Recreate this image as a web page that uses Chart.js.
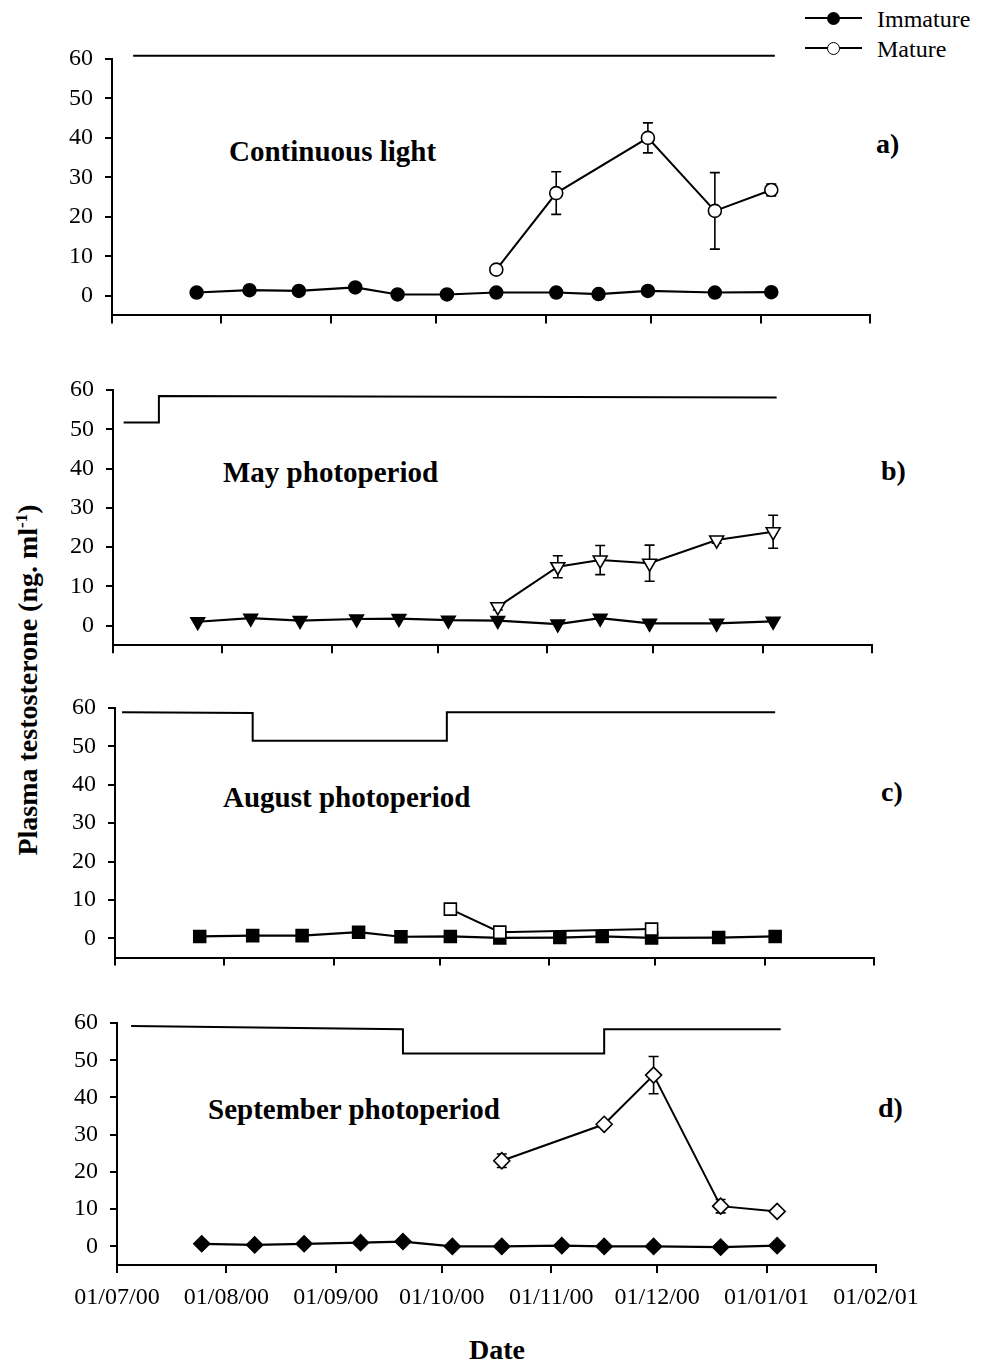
<!DOCTYPE html>
<html><head><meta charset="utf-8">
<script src="https://cdn.jsdelivr.net/npm/chart.js@4.4.0/dist/chart.umd.min.js"></script>
<style>
html,body{margin:0;padding:0;background:#fff;}
body{width:981px;height:1365px;position:relative;overflow:hidden;font-family:"Liberation Serif","Times New Roman",serif;color:#000;}
canvas{position:absolute;left:0;top:0;}
.t{position:absolute;white-space:nowrap;font-weight:bold;font-size:29px;line-height:34px;height:34px;}
.lab{position:absolute;white-space:nowrap;font-weight:bold;font-size:28px;line-height:34px;height:34px;}
.leg{position:absolute;white-space:nowrap;font-size:24px;line-height:30px;height:30px;}
.ln{position:absolute;height:2px;background:#000;}
.dot{position:absolute;width:13px;height:13px;border-radius:50%;box-sizing:border-box;}
</style></head><body>

<div class="ln" style="left:805px;top:17px;width:57px;"></div>
<div class="dot" style="left:827px;top:12px;background:#000;"></div>
<div class="leg" style="left:877px;top:4px;">Immature</div>
<div class="ln" style="left:805px;top:47px;width:57px;"></div>
<div class="dot" style="left:827px;top:42px;background:#fff;border:1.5px solid #000;"></div>
<div class="leg" style="left:877px;top:34px;">Mature</div>

<div class="t" style="left:229px;top:134px;">Continuous light</div>
<div class="t" style="left:223px;top:455px;">May photoperiod</div>
<div class="t" style="left:223px;top:780px;">August photoperiod</div>
<div class="t" style="left:208px;top:1092px;">September photoperiod</div>

<div class="lab" style="left:876px;top:127px;">a)</div>
<div class="lab" style="left:881px;top:454px;">b)</div>
<div class="lab" style="left:881px;top:775px;">c)</div>
<div class="lab" style="left:878px;top:1091px;">d)</div>

<div class="lab" style="left:-172px;top:663px;width:400px;text-align:center;transform:rotate(-90deg);">Plasma testosterone (ng. ml<sup style="font-size:17px;vertical-align:10px;line-height:0;">-1</sup>)</div>
<div class="lab" style="left:397px;top:1333px;width:200px;text-align:center;">Date</div>

<script>
// ---------- data ----------
const tickLabels = ['01/07/00','01/08/00','01/09/00','01/10/00','01/11/00','01/12/00','01/01/01','01/02/01'];
const yTicks = [0,10,20,30,40,50,60];
const sampleDates = ['2000-07-25','2000-08-09','2000-08-23','2000-09-08','2000-09-20','2000-10-04','2000-10-18','2000-11-04','2000-11-16','2000-11-30','2000-12-19','2001-01-04'];

// a) Continuous light
const aImmature = [0.8,1.4,1.2,2.1,0.3,0.3,0.8,0.8,0.4,1.2,0.8,0.9];
const aMatureDates = ['2000-10-18','2000-11-04','2000-11-30','2000-12-19','2001-01-04'];
const aMature = [6.6,26.0,40.0,21.5,26.8];
const aMatureSE = [0,5.4,3.8,9.7,1.5];
const aPhotoDates = ['2000-07-07','2001-01-05'];
const aPhoto = [60.8,60.8];

// b) May photoperiod
const bImmature = [1.0,1.9,1.3,1.7,1.8,1.4,1.3,0.4,1.9,0.6,0.6,1.1];
const bMatureDates = ['2000-10-18','2000-11-04','2000-11-16','2000-11-30','2000-12-19','2001-01-04'];
const bMature = [4.8,15.0,16.7,15.9,21.8,23.9];
const bMatureSE = [0.8,2.8,3.7,4.6,0.8,4.2];
const bPhotoDates = ['2000-07-04','2000-07-14','2000-07-14','2001-01-05'];
const bPhoto = [51.7,51.7,58.5,58.1];

// c) August photoperiod
const cImmature = [0.5,0.7,0.7,1.6,0.4,0.5,0.1,0.2,0.5,0.1,0.2,0.5];
const cMatureDates = ['2000-10-04','2000-10-18','2000-11-30'];
const cMature = [7.6,1.6,2.4];
const cMatureSE = [0,0,0];
const cPhotoDates = ['2000-07-03','2000-08-09','2000-08-09','2000-10-03','2000-10-03','2001-01-04'];
const cPhoto = [58.9,58.7,51.5,51.5,58.9,58.9];

// d) September photoperiod
const dImmature = [0.7,0.4,0.7,1.0,1.3,0.0,0.0,0.2,0.0,0.0,-0.2,0.2];
const dMatureDates = ['2000-10-18','2000-11-16','2000-11-30','2000-12-19','2001-01-04'];
const dMature = [23.0,32.8,46.0,10.8,9.4];
const dMatureSE = [1.8,0.8,5.0,1.8,0];
const dPhotoDates = ['2000-07-05','2000-09-20','2000-09-20','2000-11-16','2000-11-16','2001-01-05'];
const dPhoto = [59.2,58.3,51.8,51.8,58.3,58.3];

// ---------- helpers ----------
const ORIGIN = Date.UTC(2000,6,1);
const dayOfIso = s => { const [y,m,d] = s.split('-').map(Number); return (Date.UTC(y,m-1,d)-ORIGIN)/86400000; };
const dayOfLabel = s => { const [d,m,y] = s.split('/').map(Number); return (Date.UTC(2000+y,m-1,d)-ORIGIN)/86400000; };
const tickDays = tickLabels.map(dayOfLabel);
const toPts = (dates, vals) => dates.map((d,i)=>({x:dayOfIso(d), y:vals[i]}));

Chart.defaults.font.family = '"Liberation Serif","Times New Roman",serif';
Chart.defaults.color = '#000';

const errorBars = {
  id:'errorBars',
  beforeDatasetsDraw(chart){
    const ctx = chart.ctx, xs = chart.scales.x, ys = chart.scales.y;
    chart.data.datasets.forEach(ds=>{
      if(!ds.errors) return;
      ctx.save(); ctx.strokeStyle='#000'; ctx.lineWidth=1.6;
      ds.data.forEach((p,j)=>{
        const e = ds.errors[j]; if(!e) return;
        const x = xs.getPixelForValue(p.x), y1 = ys.getPixelForValue(p.y+e), y2 = ys.getPixelForValue(p.y-e);
        ctx.beginPath();
        ctx.moveTo(x,y1); ctx.lineTo(x,y2);
        ctx.moveTo(x-5,y1); ctx.lineTo(x+5,y1);
        ctx.moveTo(x-5,y2); ctx.lineTo(x+5,y2);
        ctx.stroke();
      });
      ctx.restore();
    });
  }
};

const panels = [
  {left:112,right:870,top:59,bottom:315.4, imm:aImmature, matD:aMatureDates, mat:aMature, se:aMatureSE, phD:aPhotoDates, ph:aPhoto, style:'circle', rot:0, r:6.5, labels:false},
  {left:113,right:872,top:390,bottom:645.3, imm:bImmature, matD:bMatureDates, mat:bMature, se:bMatureSE, phD:bPhotoDates, ph:bPhoto, style:'triangle', rot:180, r:8, labels:false},
  {left:115,right:874,top:708,bottom:957.5, imm:cImmature, matD:cMatureDates, mat:cMature, se:cMatureSE, phD:cPhotoDates, ph:cPhoto, style:'rect', rot:0, r:8.5, labels:false},
  {left:117,right:876,top:1023,bottom:1265, imm:dImmature, matD:dMatureDates, mat:dMature, se:dMatureSE, phD:dPhotoDates, ph:dPhoto, style:'rectRot', rot:0, r:8, labels:true}
];

panels.forEach(p=>{
  const cv = document.createElement('canvas');
  cv.width = 981; cv.height = 1365;
  document.body.appendChild(cv);
  const XH = p.labels ? 50 : 10, YW = 80;
  new Chart(cv, {
    type:'line',
    data:{datasets:[
      {data:toPts(p.matD,p.mat), errors:p.se, borderColor:'#000', borderWidth:2, pointStyle:p.style, pointRotation:p.rot, pointRadius:p.r, pointBackgroundColor:'#fff', pointBorderColor:'#000', pointBorderWidth:1.6},
      {data:toPts(sampleDates,p.imm), borderColor:'#000', borderWidth:2.2, pointStyle:p.style, pointRotation:p.rot, pointRadius:p.r, pointBackgroundColor:'#000', pointBorderColor:'#000', pointBorderWidth:1.5},
      {data:toPts(p.phD,p.ph), borderColor:'#000', borderWidth:2, pointRadius:0, clip:false}
    ]},
    options:{
      responsive:false, animation:false, events:[],
      layout:{padding:{left:p.left-YW, right:981-p.right, top:p.top, bottom:1365-p.bottom-XH}},
      plugins:{legend:{display:false}, tooltip:{enabled:false}},
      scales:{
        x:{type:'linear', min:0, max:215,
           afterBuildTicks:ax=>{ax.ticks = tickDays.map(v=>({value:v}));},
           afterFit:ax=>{ax.height = XH;},
           border:{display:true,color:'#000',width:2},
           grid:{drawOnChartArea:false, drawTicks:true, tickLength:8, color:'#000', lineWidth:2},
           ticks:{display:p.labels, autoSkip:false, maxRotation:0, minRotation:0, padding:10, font:{size:24}, color:'#000',
                  callback:v=>{const i = tickDays.indexOf(v); return i>=0 ? tickLabels[i] : '';}}},
        y:{type:'linear', min:-5, max:60,
           afterBuildTicks:ax=>{ax.ticks = yTicks.map(v=>({value:v}));},
           afterFit:ax=>{ax.width = YW;},
           border:{display:true,color:'#000',width:2},
           grid:{drawOnChartArea:false, drawTicks:true, tickLength:7, color:'#000', lineWidth:2},
           ticks:{padding:12, font:{size:24}, color:'#000'}}
      }
    },
    plugins:[errorBars]
  });
});
</script>
</body></html>
